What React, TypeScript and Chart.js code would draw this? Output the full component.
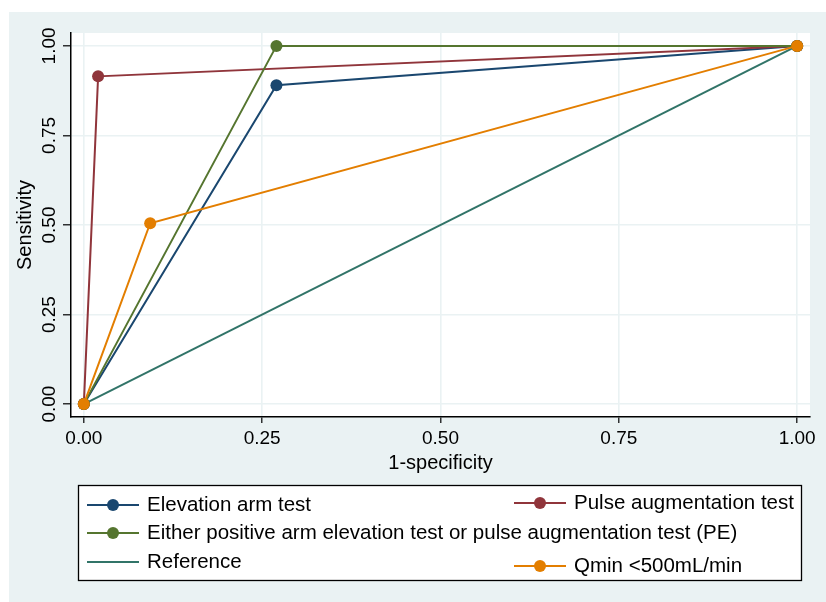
import React, { useEffect, useRef } from "react";
import { Chart, registerables } from "chart.js";

Chart.register(...registerables);

const seriesNames = [
  "Elevation arm test",
  "Pulse augmentation test",
  "Either positive arm elevation test or pulse augmentation test (PE)",
  "Reference",
  "Qmin <500mL/min",
];
const seriesColors = ["#1A476F", "#90353B", "#55752F", "#317468", "#E37E00"];
const showMarkers = [true, true, true, false, true];

// 1-specificity (x) and sensitivity (y) per series
const elevationX = [0, 0.27, 1];
const elevationY = [0, 0.89, 1];
const pulseX = [0, 0.02, 1];
const pulseY = [0, 0.915, 1];
const eitherX = [0, 0.27, 1];
const eitherY = [0, 1, 1];
const referenceX = [0, 1];
const referenceY = [0, 1];
const qminX = [0, 0.093, 1];
const qminY = [0, 0.505, 1];

const tickValues = [0, 0.25, 0.5, 0.75, 1];
const xTitle = "1-specificity";
const yTitle = "Sensitivity";

const BG = "#EAF2F3";
const FONT = "'Liberation Sans', Arial, sans-serif";

const toPts = (xs: number[], ys: number[]) => xs.map((x, i) => ({ x, y: ys[i] }));

// legend layout per entry
const legendSlots = [
  { x: 87, y: 505 },
  { x: 514, y: 503 },
  { x: 87, y: 533 },
  { x: 87, y: 562 },
  { x: 514, y: 566 },
];

const bgPlugin = {
  id: "stataBg",
  beforeDraw(chart: any) {
    const { ctx, chartArea, width, height } = chart;
    ctx.save();
    ctx.fillStyle = "#ffffff";
    ctx.fillRect(0, 0, width, height);
    ctx.fillStyle = BG;
    ctx.fillRect(9, 12, width - 9, height - 12);
    ctx.fillStyle = "#ffffff";
    ctx.fillRect(chartArea.left, chartArea.top, chartArea.right - chartArea.left, chartArea.bottom - chartArea.top);
    ctx.restore();
  },
};

const legendPlugin = {
  id: "stataLegend",
  afterDraw(chart: any) {
    const { ctx } = chart;
    ctx.save();
    ctx.fillStyle = "#ffffff";
    ctx.fillRect(78, 485, 724, 96);
    ctx.strokeStyle = "#000000";
    ctx.lineWidth = 1.3;
    ctx.strokeRect(78.5, 485.5, 723, 95);
    chart.data.datasets.forEach((ds: any, i: number) => {
      const s = legendSlots[i];
      ctx.strokeStyle = ds.borderColor;
      ctx.lineWidth = 2;
      ctx.beginPath();
      ctx.moveTo(s.x, s.y);
      ctx.lineTo(s.x + 52, s.y);
      ctx.stroke();
      if (showMarkers[i]) {
        ctx.fillStyle = ds.borderColor;
        ctx.beginPath();
        ctx.arc(s.x + 26, s.y, 6, 0, Math.PI * 2);
        ctx.fill();
      }
      ctx.fillStyle = "#000000";
      ctx.font = `20.5px ${FONT}`;
      ctx.textBaseline = "middle";
      ctx.textAlign = "left";
      ctx.fillText(ds.label, s.x + 60, s.y);
    });
    ctx.restore();
  },
};

export default function App() {
  const ref = useRef<HTMLCanvasElement | null>(null);
  useEffect(() => {
    if (!ref.current) return;
    const data = [
      toPts(elevationX, elevationY),
      toPts(pulseX, pulseY),
      toPts(eitherX, eitherY),
      toPts(referenceX, referenceY),
      toPts(qminX, qminY),
    ];
    const chart = new Chart(ref.current, {
      type: "line",
      data: {
        datasets: data.map((d, i) => ({
          label: seriesNames[i],
          data: d,
          order: seriesNames.length - i,
          borderColor: seriesColors[i],
          backgroundColor: seriesColors[i],
          borderWidth: 2,
          pointRadius: showMarkers[i] ? 6 : 0,
          pointHoverRadius: showMarkers[i] ? 6 : 0,
          pointBorderWidth: 0,
          tension: 0,
          fill: false,
        })),
      },
      options: {
        animation: false,
        responsive: false,
        devicePixelRatio: 1,
        layout: { padding: { left: 9, top: 33, right: 16, bottom: 127 } },
        plugins: { legend: { display: false }, tooltip: { enabled: false } },
        scales: {
          x: {
            type: "linear",
            min: -0.018,
            max: 1.018,
            afterBuildTicks: (s: any) => {
              s.ticks = tickValues.map((v) => ({ value: v }));
            },
            afterFit: (s: any) => {
              s.height = 58;
            },
            ticks: {
              autoSkip: false,
              padding: 4,
              color: "#000",
              font: { family: FONT, size: 19 },
              callback: (v: any) => Number(v).toFixed(2),
            },
            grid: { color: BG, lineWidth: 1.6, tickColor: "#000", tickLength: 6, tickWidth: 1.2 },
            border: { color: "#000", width: 1.5 },
            title: {
              display: true,
              text: xTitle,
              color: "#000",
              font: { family: FONT, size: 20, lineHeight: 1.2 },
              padding: 0,
            },
          },
          y: {
            type: "linear",
            min: -0.036,
            max: 1.036,
            afterBuildTicks: (s: any) => {
              s.ticks = tickValues.map((v) => ({ value: v }));
            },
            afterFit: (s: any) => {
              s.width = 62;
            },
            ticks: {
              autoSkip: false,
              minRotation: 90,
              maxRotation: 90,
              crossAlign: "center",
              padding: -5,
              color: "#000",
              font: { family: FONT, size: 19 },
              callback: (v: any) => Number(v).toFixed(2),
            },
            grid: { color: BG, lineWidth: 1.6, tickColor: "#000", tickLength: 8, tickWidth: 1.2 },
            border: { color: "#000", width: 1.5 },
            title: {
              display: true,
              text: yTitle,
              color: "#000",
              font: { family: FONT, size: 20, lineHeight: 1.2 },
              padding: { top: 4, bottom: 0 },
            },
          },
        },
      },
      plugins: [bgPlugin, legendPlugin],
    });
    return () => chart.destroy();
  }, []);
  return (
    <div style={{ position: "fixed", left: 0, top: 0, width: 826, height: 602 }}>
      <canvas ref={ref} width={826} height={602} style={{ width: 826, height: 602, display: "block" }} />
    </div>
  );
}
